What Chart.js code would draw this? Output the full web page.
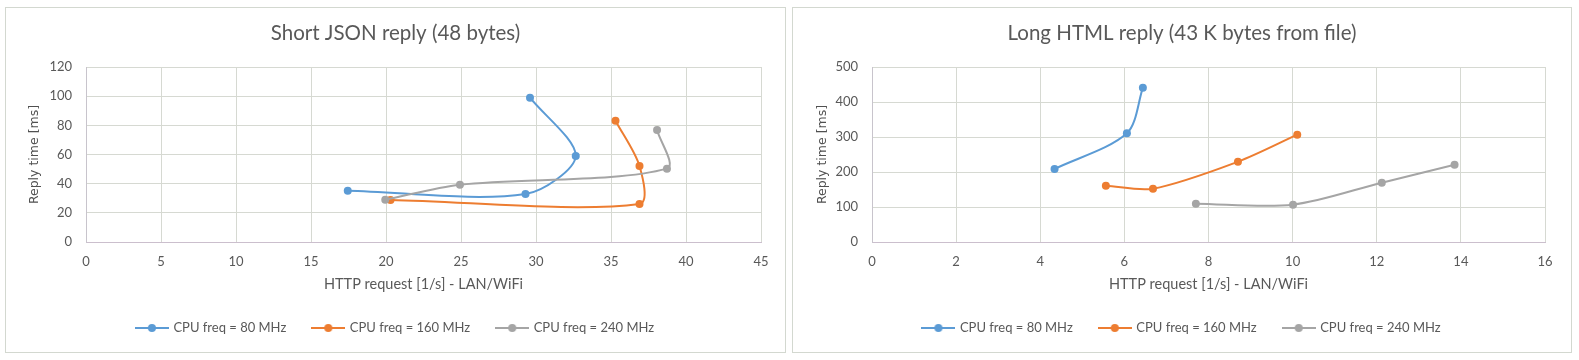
<!DOCTYPE html>
<html>
<head>
<meta charset="utf-8">
<script src="https://cdn.jsdelivr.net/npm/chart.js@4"></script>
<style>
  body { margin: 0; background: #fff; width: 1579px; height: 360px; overflow: hidden; }
  .box { position: absolute; top: 7px; height: 344px; border: 1px solid #d3d8d0; }
  #box1 { left: 5px; width: 779px; }
  #box2 { left: 792px; width: 778px; }
  canvas { display: block; }
</style>
</head>
<body>
<div class="box" id="box1"><canvas id="chart-json" width="779" height="344"></canvas></div>
<div class="box" id="box2"><canvas id="chart-html" width="778" height="344"></canvas></div>
<script>
// series labels
const seriesLabels = ["CPU freq = 80 MHz", "CPU freq = 160 MHz", "CPU freq = 240 MHz"];
const seriesColors = ["#5b9bd5", "#ed7d31", "#a5a5a5"];

// short JSON reply (48 bytes)
const jsonBlueX = [17.45, 29.3, 32.65, 29.6];
const jsonBlueY = [35.2, 32.9, 59.0, 99.0];
const jsonOrangeX = [20.3, 36.9, 36.9, 35.3];
const jsonOrangeY = [28.8, 26.1, 52.1, 83.2];
const jsonGrayX = [19.95, 24.93, 38.73, 38.07];
const jsonGrayY = [29.0, 39.3, 50.3, 76.8];

// long HTML reply (43 K bytes from file)
const htmlBlueX = [4.34, 6.06, 6.44];
const htmlBlueY = [208.6, 310.5, 440.9];
const htmlOrangeX = [5.56, 6.68, 8.70, 10.11];
const htmlOrangeY = [160.9, 152.4, 229.5, 306.7];
const htmlGrayX = [7.70, 10.01, 12.12, 13.85];
const htmlGrayY = [109.5, 106.7, 169.5, 220.9];

const textColor = "#595959";
const gridColor = "#d6d9d2";
const calibri = "Lato, 'Open Sans', sans-serif";

function toPoints(xs, ys) {
    return xs.map((x, i) => ({ x: x, y: ys[i] }));
}

// little line + marker image for the legend, like excel does it
function legendImage(color) {
    const c = document.createElement("canvas");
    c.width = 34;
    c.height = 10;
    const ctx = c.getContext("2d");
    ctx.strokeStyle = color;
    ctx.lineWidth = 2;
    ctx.beginPath();
    ctx.moveTo(0, 5);
    ctx.lineTo(34, 5);
    ctx.stroke();
    ctx.fillStyle = color;
    ctx.beginPath();
    ctx.arc(17, 5, 4, 0, Math.PI * 2);
    ctx.fill();
    return c;
}

function makeDatasets(xsList, ysList) {
    return xsList.map((xs, i) => ({
        label: seriesLabels[i],
        data: toPoints(xs, ysList[i]),
        showLine: true,
        borderColor: seriesColors[i],
        backgroundColor: seriesColors[i],
        borderWidth: 2,
        pointRadius: 4,
        pointHoverRadius: 4,
        pointBorderWidth: 0,
        tension: 0.3,
        order: 2 - i
    }));
}

function makeChart(canvasId, title, datasets, xMax, xStep, yMax, yStep, plotLeft, plotRightPad, yTitleX) {
    return new Chart(document.getElementById(canvasId), {
        type: "scatter",
        data: { datasets: datasets },
        options: {
            responsive: false,
            animation: false,
            events: [],
            layout: { padding: { top: 0, left: 0, right: 0, bottom: 7.5 } },
            plugins: {
                title: {
                    display: true,
                    text: title,
                    color: textColor,
                    font: { family: calibri, size: 20.5, weight: "normal" },
                    padding: { top: 12.7, bottom: 21.7 }
                },
                legend: {
                    position: "bottom",
                    labels: {
                        color: textColor,
                        font: { family: calibri, size: 13 },
                        usePointStyle: true,
                        pointStyleWidth: 30,
                        padding: 27,
                        sort: (a, b) => a.datasetIndex - b.datasetIndex,
                        generateLabels: function(chart) {
                            const items = Chart.defaults.plugins.legend.labels.generateLabels(chart);
                            items.forEach(item => {
                                item.pointStyle = legendImage(seriesColors[item.datasetIndex]);
                            });
                            return items;
                        }
                    }
                },
                tooltip: { enabled: false }
            },
            scales: {
                x: {
                    type: "linear",
                    min: 0,
                    max: xMax,
                    ticks: {
                        stepSize: xStep,
                        color: textColor,
                        font: { family: calibri, size: 13 },
                        padding: 12
                    },
                    grid: { color: gridColor, drawTicks: false },
                    border: { color: "#cbbfcd" },
                    title: {
                        display: true,
                        text: "HTTP request [1/s] - LAN/WiFi",
                        color: textColor,
                        font: { family: calibri, size: 14.5 },
                        padding: { top: 0, bottom: 1 }
                    },
                    afterFit: s => { s.height = 52.5; }
                },
                y: {
                    type: "linear",
                    position: "left",
                    min: 0,
                    max: yMax,
                    ticks: {
                        stepSize: yStep,
                        color: textColor,
                        font: { family: calibri, size: 13 },
                        padding: 14
                    },
                    grid: { color: gridColor, drawTicks: false },
                    border: { color: "#c8c4cc" },
                    title: {
                        display: true,
                        text: "Reply time [ms]",
                        color: "#505050",
                        font: { family: "'DejaVu Sans', Verdana, sans-serif", size: 12.5 },
                        padding: { top: yTitleX - 7.5, bottom: 0 }
                    },
                    afterFit: s => { s.width = plotLeft; }
                },
                y2: {
                    type: "linear",
                    position: "right",
                    display: true,
                    ticks: { display: false },
                    grid: { display: false, drawTicks: false },
                    border: { display: false },
                    afterFit: s => { s.width = plotRightPad; }
                }
            }
        }
    });
}

const chartJson = makeChart(
    "chart-json",
    "Short JSON reply (48 bytes)",
    makeDatasets([jsonBlueX, jsonOrangeX, jsonGrayX], [jsonBlueY, jsonOrangeY, jsonGrayY]),
    45, 5, 120, 20, 80, 24, 28.3
);

const chartHtml = makeChart(
    "chart-html",
    "Long HTML reply (43 K bytes from file)",
    makeDatasets([htmlBlueX, htmlOrangeX, htmlGrayX], [htmlBlueY, htmlOrangeY, htmlGrayY]),
    16, 2, 500, 100, 79, 26, 29.7
);
</script>
</body>
</html>
